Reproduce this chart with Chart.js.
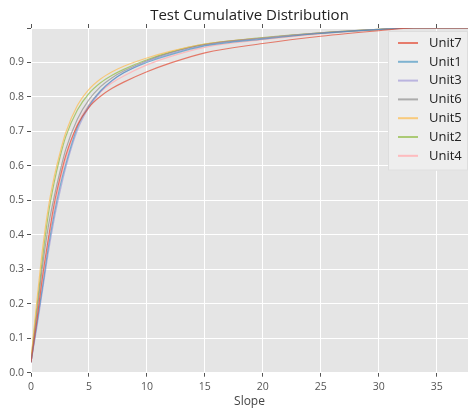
<!DOCTYPE html>
<html>
<head>
<meta charset="utf-8">
<script src="https://cdn.jsdelivr.net/npm/chart.js@4.4.1/dist/chart.umd.min.js"></script>
<style>
  html, body { margin: 0; padding: 0; background: #fff; }
  #wrap { width: 470px; height: 409px; }
</style>
</head>
<body>
<div id="wrap"><canvas id="cdfChart" width="470" height="409"></canvas></div>
<script>
// Slope values where the curves were read
const slopes = [0, 0.5, 1, 1.5, 2, 2.5, 3, 4, 5, 6, 7, 8, 10, 12, 15, 20, 25, 30, 33, 37.7];

// Cumulative fraction per unit
const unit7 = [0.03, 0.15, 0.28, 0.39, 0.49, 0.565, 0.63, 0.718, 0.77, 0.802, 0.825, 0.843, 0.873, 0.898, 0.928, 0.955, 0.976, 0.992, 1, 1];
const unit1 = [0.03, 0.14, 0.25, 0.365, 0.46, 0.54, 0.605, 0.712, 0.775, 0.818, 0.848, 0.87, 0.9, 0.922, 0.948, 0.968, 0.984, 0.995, 1, 1];
const unit3 = [0.03, 0.13, 0.24, 0.35, 0.445, 0.525, 0.595, 0.703, 0.77, 0.815, 0.847, 0.87, 0.903, 0.925, 0.95, 0.97, 0.985, 0.996, 1, 1];
const unit6 = [0.03, 0.17, 0.31, 0.425, 0.51, 0.583, 0.648, 0.735, 0.792, 0.83, 0.856, 0.875, 0.905, 0.928, 0.952, 0.971, 0.986, 0.996, 1, 1];
const unit5 = [0.04, 0.205, 0.36, 0.48, 0.568, 0.638, 0.697, 0.775, 0.822, 0.852, 0.873, 0.889, 0.913, 0.932, 0.953, 0.971, 0.985, 0.996, 1, 1];
const unit2 = [0.035, 0.19, 0.335, 0.46, 0.552, 0.625, 0.685, 0.762, 0.81, 0.841, 0.863, 0.88, 0.908, 0.93, 0.953, 0.972, 0.986, 0.996, 1, 1];
const unit4 = [0.03, 0.145, 0.27, 0.38, 0.475, 0.555, 0.62, 0.72, 0.778, 0.815, 0.841, 0.861, 0.893, 0.917, 0.944, 0.966, 0.983, 0.995, 1, 1];

const unitNames = ['Unit7', 'Unit1', 'Unit3', 'Unit6', 'Unit5', 'Unit2', 'Unit4'];
const unitValues = [unit7, unit1, unit3, unit6, unit5, unit2, unit4];
const unitColors = [
    'rgba(226, 74, 51, 0.7)',
    'rgba(52, 138, 189, 0.6)',
    'rgba(152, 142, 213, 0.6)',
    'rgba(119, 119, 119, 0.55)',
    'rgba(251, 193, 94, 0.8)',
    'rgba(142, 186, 66, 0.7)',
    'rgba(255, 181, 184, 0.9)'
];

const xTicks = [0, 5, 10, 15, 20, 25, 30, 35];
const yTicks = [0, 0.1, 0.2, 0.3, 0.4, 0.5, 0.6, 0.7, 0.8, 0.9, 1.0];

const FONT = '"Open Sans", "DejaVu Sans", sans-serif';

// Grey plot background
const plotBackground = {
    id: 'plotBackground',
    beforeDraw(chart) {
        const { ctx, chartArea } = chart;
        ctx.save();
        ctx.fillStyle = '#ffffff';
        ctx.fillRect(0, 0, chart.width, chart.height);
        ctx.fillStyle = '#e5e5e5';
        ctx.fillRect(chartArea.left, chartArea.top, chartArea.right - chartArea.left, chartArea.bottom - chartArea.top);
        ctx.restore();
    }
};

// Legend inside the upper right corner
const innerLegend = {
    id: 'innerLegend',
    afterDraw(chart) {
        const { ctx, chartArea } = chart;
        const boxRight = chartArea.right;
        const boxLeft = 388;
        const boxTop = 31;
        const rowH = 18.8;
        const boxBottom = boxTop + rowH * unitNames.length + 8;
        ctx.save();
        ctx.fillStyle = '#eeeeee';
        ctx.strokeStyle = '#dddddd';
        ctx.lineWidth = 1;
        ctx.fillRect(boxLeft, boxTop, boxRight - boxLeft, boxBottom - boxTop);
        ctx.strokeRect(boxLeft + 0.5, boxTop + 0.5, boxRight - boxLeft - 1, boxBottom - boxTop - 1);
        ctx.font = '13px ' + FONT;
        ctx.textBaseline = 'middle';
        ctx.textAlign = 'left';
        chart.data.datasets.forEach((ds, i) => {
            const y = boxTop + 12 + i * rowH;
            ctx.strokeStyle = ds.borderColor;
            ctx.lineWidth = 2;
            ctx.beginPath();
            ctx.moveTo(398, y);
            ctx.lineTo(418, y);
            ctx.stroke();
            ctx.fillStyle = '#222222';
            ctx.fillText(ds.label, 429, y);
        });
        ctx.restore();
    }
};

const ctx = document.getElementById('cdfChart').getContext('2d');

new Chart(ctx, {
    type: 'line',
    data: {
        datasets: unitNames.map((name, i) => ({
            label: name,
            data: slopes.map((s, j) => ({ x: s, y: unitValues[i][j] })),
            borderColor: unitColors[i],
            borderWidth: 1.2,
            pointRadius: 0,
            fill: false,
            cubicInterpolationMode: 'monotone'
        }))
    },
    options: {
        responsive: false,
        animation: false,
        layout: { padding: { left: 0, right: 2, top: 0, bottom: 0 } },
        plugins: {
            legend: { display: false },
            tooltip: { enabled: false },
            title: {
                display: true,
                fullSize: false,
                text: 'Test Cumulative Distribution',
                color: '#222222',
                font: { family: FONT, size: 15, weight: 'normal' },
                padding: { top: 7, bottom: 0 }
            }
        },
        scales: {
            x: {
                type: 'linear',
                min: 0,
                max: 37.7,
                afterBuildTicks: scale => { scale.ticks = xTicks.map(v => ({ value: v })); },
                afterFit: scale => { scale.height = 36.3; },
                ticks: {
                    color: '#555555',
                    font: { family: FONT, size: 10.5 },
                    padding: 4,
                    maxRotation: 0
                },
                grid: { color: '#ffffff', tickColor: '#555555', tickLength: 4, lineWidth: 1 },
                border: { display: false },
                title: {
                    display: true,
                    text: 'Slope',
                    color: '#444444',
                    font: { family: FONT, size: 12 },
                    padding: { top: 0, bottom: 0 }
                }
            },
            x2: {
                type: 'linear',
                position: 'top',
                min: 0,
                max: 37.7,
                afterBuildTicks: scale => { scale.ticks = xTicks.map(v => ({ value: v })); },
                afterFit: scale => { scale.height = 3; },
                ticks: { display: false },
                grid: { drawOnChartArea: false, tickColor: '#555555', tickLength: 4 },
                border: { display: false }
            },
            y: {
                min: 0,
                max: 1,
                afterBuildTicks: scale => { scale.ticks = yTicks.map(v => ({ value: v })); },
                afterFit: scale => { scale.width = 31; },
                ticks: {
                    color: '#555555',
                    font: { family: FONT, size: 10.5 },
                    padding: 3,
                    callback: v => (v >= 0.999 ? '' : v.toFixed(1))
                },
                grid: { color: '#ffffff', tickColor: '#555555', tickLength: 4, lineWidth: 1 },
                border: { display: false }
            }
        }
    },
    plugins: [plotBackground, innerLegend]
});
</script>
</body>
</html>
